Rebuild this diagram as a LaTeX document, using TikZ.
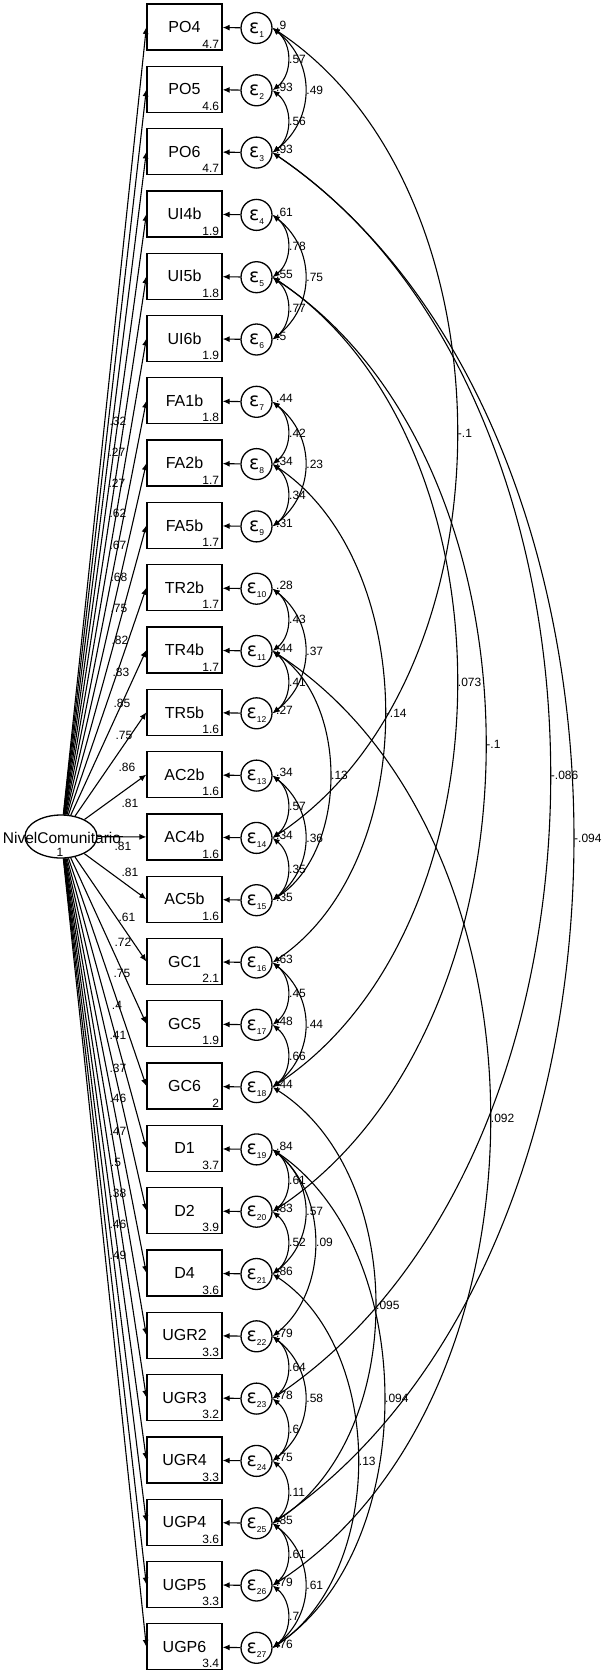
\documentclass[tikz,border=0pt]{standalone}
\usepackage{fontspec}
\setmainfont{Liberation Sans}
\newfontfamily\epsfont{DejaVu Sans}
\usetikzlibrary{arrows.meta,shapes.geometric}
\newcommand\epsl[1]{{\epsfont\fontsize{19}{19}\selectfont ε}\smash{\raisebox{-4pt}{\fontsize{8.5}{8.5}\selectfont #1}}}
\begin{document}
\begin{tikzpicture}[x=1pt,y=-1pt,line width=1.1pt,
  >={Latex[length=7pt,width=6pt]},
  obs/.style={draw,line width=1.3pt,minimum width=75pt,minimum height=46pt,inner sep=0pt,font=\fontsize{16}{16}\selectfont},
  err/.style={draw,circle,line width=1.3pt,minimum size=31pt,inner sep=0pt},
  val/.style={font=\fontsize{12}{12}\selectfont,inner sep=0pt},
  clab/.style={val,anchor=west,inner sep=1pt}]
\useasboundingbox (0,0) rectangle (608,1673);
\node[draw,ellipse,line width=1.3pt,minimum width=72pt,minimum height=43pt,inner sep=0pt] (lat) at (61,836.5) {};
\node[font=\fontsize{15.5}{16}\selectfont,inner sep=0pt] (latname) at (62,838) {NivelComunitario};
\node[val] (latmean) at (60,852) {1};
\foreach \i/\nm/\mn/\vr/\ld/\lx/\ly in {
1/PO4/4.7/.9/.32/118/421,
2/PO5/4.6/.93/.27/117/452,
3/PO6/4.7/.93/.27/117/483,
4/UI4b/1.9/.61/.62/118/513,
5/UI5b/1.8/.55/.67/118/545,
6/UI6b/1.9/.5/.68/119/577,
7/FA1b/1.8/.44/.75/119/608,
8/FA2b/1.7/.34/.82/120/640,
9/FA5b/1.7/.31/.83/121/672,
10/TR2b/1.7/.28/.85/122/703,
11/TR4b/1.7/.44/.75/124/735,
12/TR5b/1.6/.27/.86/127/767,
13/AC2b/1.6/.34/.81/130/803,
14/AC4b/1.6/.34/.81/123/846,
15/AC5b/1.6/.35/.81/130/872,
16/GC1/2.1/.63/.61/127/917,
17/GC5/1.9/.48/.72/123/942,
18/GC6/2/.44/.75/122/973,
19/D1/3.7/.84/.4/117/1005,
20/D2/3.9/.83/.41/118/1035,
21/D4/3.6/.86/.37/118/1068,
22/UGR2/3.3/.79/.46/118/1098,
23/UGR3/3.2/.78/.47/118/1131,
24/UGR4/3.3/.75/.5/116/1162,
25/UGP4/3.6/.85/.38/118/1193,
26/UGP5/3.3/.79/.46/118/1224,
27/UGP6/3.4/.76/.49/118/1255}{
  \pgfmathsetmacro\yy{27+62.3*(\i-1)}
  \node[obs] (b\i) at (184.5,\yy) {\nm};
  \node[val,anchor=base east] (m\i) at ([xshift=-3pt,yshift=2.5pt]b\i.south east) {\mn};
  \node[err] (e\i) at (256.5,\yy+1) {\epsl{\i}};
  \node[val,anchor=west] (v\i) at ([xshift=3pt,yshift=3pt]e\i.east) {\vr};
  \draw[->] (e\i) -- (b\i);
  \draw[->] (lat) -- (b\i.west);
  \node[val] (l\i) at (\lx,\ly) {\ld};
}
% covariance arcs
\foreach \a/\b/\d/\h/\lab in {
1/2/20/16/.57, 2/3/20/16/.56, 1/3/43/34/.49,
4/5/20/16/.78, 5/6/20/16/.77, 4/6/43/34/.75,
7/8/20/16/.42, 8/9/20/16/.34, 7/9/43/34/.23,
10/11/20/16/.43, 11/12/20/16/.41, 10/12/43/34/.37,
13/14/20/16/.57, 14/15/20/16/.35, 13/15/43/34/.36,
16/17/20/16/.45, 17/18/20/16/.66, 16/18/43/34/.44,
19/20/20/16/.61, 20/21/20/16/.52, 19/21/43/34/.57, 19/22/56/45/.09,
22/23/20/16/.64, 23/24/20/16/.6, 22/24/43/34/.58,
24/25/20/16/.11,
25/26/20/16/.61, 26/27/20/16/.7, 25/27/43/34/.61,
1/14/245/162/-.1,
3/23/369/249/-.086,
3/25/400/274/-.094,
5/18/245/162/.073,
5/20/283/187/-.1,
8/16/149/100/-.14,
11/15/76/50/.13,
11/26/289/187/.092,
18/25/136/87/.095,
19/27/148/100/.094,
21/27/113/75/.13}{
  \draw[<->] (e\a.east) .. controls +(\d,\h) and +(\d,-\h) .. (e\b.east) node[clab,pos=.5] {\lab};
}
\end{tikzpicture}
\end{document}
